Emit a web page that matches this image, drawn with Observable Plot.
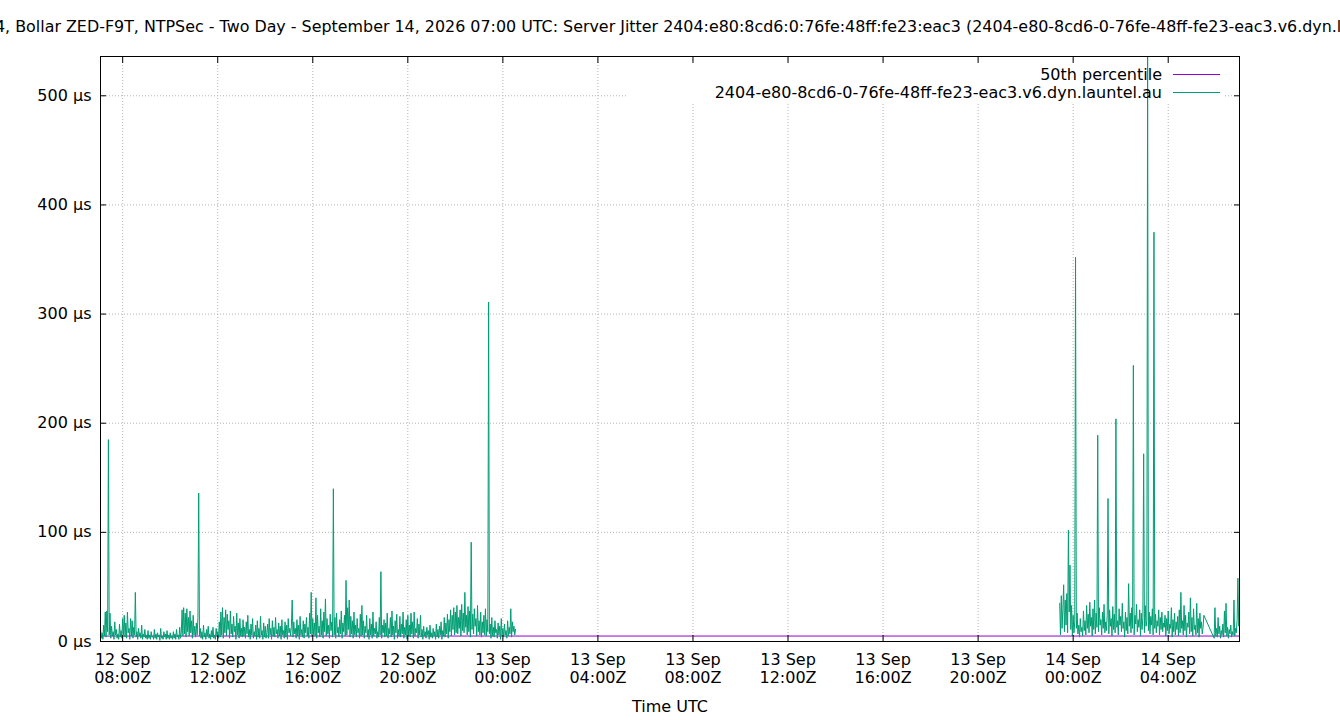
<!DOCTYPE html>
<html>
<head>
<meta charset="utf-8">
<script src="https://cdn.jsdelivr.net/npm/d3@7"></script>
<script src="https://cdn.jsdelivr.net/npm/@observablehq/plot@0.6"></script>
<style>
  html, body { margin: 0; padding: 0; background: #fff; }
  body { width: 1340px; height: 720px; overflow: hidden; font-family: "DejaVu Sans", sans-serif; }
  #title { width: 1340px; height: 45px; box-sizing: border-box; padding-top: 19px; line-height: 16px;
           font-size: 15.9px; white-space: nowrap; overflow: hidden; color: #000; text-indent: -5px; }
</style>
</head>
<body>
<div id="title">4, Bollar ZED-F9T, NTPSec - Two Day - September 14, 2026 07:00 UTC: Server Jitter 2404:e80:8cd6:0:76fe:48ff:fe23:eac3 (2404-e80-8cd6-0-76fe-48ff-fe23-eac3.v6.dyn.launtel.au)</div>
<div id="chart"></div>
<script>
// ---- data (jitter in µs, one sample every 2 minutes) ----
const stepMinutes = 2;
const run1Start = "2026-09-12T07:04:00Z";
const run1Jitter = [
  12, 3, 8, 2, 15, 5, 27, 4, 28, 9, 185, 6, 26, 3, 14, 5, 9, 2, 18, 6, 11, 3, 7, 2, 16, 4, 10, 3, 21, 6,
  24, 4, 17, 3, 27, 8, 12, 2, 21, 5, 19, 3, 13, 6, 45, 4, 9, 2, 12, 5, 8, 3, 15, 2, 7, 4, 11, 3, 6, 2,
  10, 3, 6, 2, 9, 4, 5, 2, 11, 3, 7, 2, 8, 4, 6, 1, 12, 3, 5, 2, 9, 4, 7, 2, 10, 3, 6, 2, 8, 3,
  5, 2, 9, 3, 7, 2, 11, 4, 6, 2, 13, 3, 8, 29, 5, 31, 7, 26, 4, 30, 9, 22, 5, 28, 8, 19, 3, 24, 6, 14,
  4, 17, 6, 22, 136, 5, 12, 3, 9, 2, 15, 4, 8, 2, 11, 5, 14, 3, 7, 2, 10, 4, 13, 3, 6, 2, 12, 5, 9, 3,
  18, 4, 27, 6, 31, 3, 22, 8, 29, 5, 25, 11, 19, 3, 28, 7, 16, 4, 23, 9, 14, 2, 26, 6, 17, 3, 21, 5, 12, 4,
  20, 5, 13, 3, 18, 7, 24, 4, 11, 2, 16, 6, 21, 3, 9, 5, 15, 2, 19, 4, 12, 3, 23, 6, 10, 2, 17, 4, 14, 3,
  8, 16, 3, 21, 6, 12, 2, 19, 5, 13, 4, 22, 7, 11, 3, 17, 5, 14, 2, 20, 6, 10, 3, 18, 4, 15, 2, 21, 8, 12,
  5, 14, 38, 4, 18, 7, 12, 3, 20, 5, 15, 2, 23, 6, 11, 4, 19, 3, 16, 8, 22, 5, 13, 3, 26, 7, 45, 4, 21, 6,
  17, 5, 40, 3, 24, 8, 14, 4, 30, 6, 19, 3, 27, 9, 39, 5, 21, 7, 15, 3, 25, 10, 18, 4, 140, 6, 22, 3, 26, 8,
  13, 4, 20, 7, 28, 3, 17, 9, 24, 5, 56, 6, 31, 11, 38, 4, 23, 7, 19, 3, 27, 6, 15, 4, 21, 8, 12, 3, 25, 5,
  33, 6, 19, 3, 14, 8, 24, 4, 11, 2, 21, 6, 16, 3, 27, 5, 12, 7, 18, 3, 9, 4, 22, 6, 64, 3, 15, 8, 20, 4,
  17, 5, 26, 3, 12, 7, 22, 4, 28, 6, 14, 2, 19, 8, 25, 3, 11, 5, 23, 4, 16, 7, 27, 3, 13, 6, 20, 2, 24, 5,
  15, 4, 26, 7, 18, 3, 27, 5, 12, 8, 21, 3, 16, 6, 24, 4, 11, 2, 14, 5, 9, 3, 13, 6, 10, 2, 15, 4, 8, 3,
  12, 5, 9, 2, 16, 4, 11, 3, 14, 6, 18, 2, 10, 5, 22, 4, 17, 7, 25, 3, 20, 9, 29, 5, 24, 11, 31, 6, 27, 8,
  33, 7, 22, 12, 29, 5, 34, 10, 26, 8, 45, 13, 24, 6, 32, 9, 28, 4, 91, 11, 25, 7, 30, 14, 21, 5, 33, 9, 19, 6,
  27, 4, 18, 8, 24, 6, 30, 5, 20, 9, 311, 7, 16, 3, 22, 5, 13, 4, 19, 8, 11, 3, 17, 6, 14, 2, 21, 5, 12, 4,
  16, 6, 10, 3, 19, 5, 13, 7, 30, 4, 18, 9, 14, 6, 11
];
const run2Start = "2026-09-13T23:26:00Z";
const run2Jitter = [
  35, 6, 42, 12, 30, 52, 9, 38, 15, 44, 8, 102, 27, 70, 11, 33, 5, 24, 8, 18, 352, 12, 26, 7, 15, 4, 21, 9, 13, 5,
  28, 10, 19, 6, 33, 12, 25, 8, 36, 14, 22, 5, 30, 11, 38, 7, 26, 13, 189, 9, 31, 15, 20, 6, 27, 12, 34, 8, 18, 10,
  24, 131, 7, 29, 14, 21, 5, 32, 11, 25, 8, 204, 13, 19, 6, 30, 15, 23, 9, 35, 12, 18, 4, 27, 10, 22, 7, 53, 14, 26,
  8, 31, 12, 253, 6, 24, 16, 34, 9, 20, 13, 29, 5, 26, 11, 22, 172, 8, 33, 14, 19, 536, 10, 27, 7, 23, 15, 30, 6, 375,
  12, 25, 8, 19, 14, 29, 6, 22, 11, 27, 9, 17, 13, 24, 5, 21, 10, 28, 7, 16, 12, 31, 4, 20, 9, 26, 6, 18, 11, 23,
  5, 29, 8, 45, 12, 19, 6, 33, 10, 24, 4, 17, 13, 27, 7, 40, 9, 22, 5, 30, 11, 15, 6, 35, 8, 21, 4, 26, 12, 18,
  7, 13, 24
];
const run3Start = "2026-09-14T05:56:00Z";
const run3Jitter = [
  3, 31, 5, 12, 4, 22, 7, 14, 3, 10, 6, 16, 4, 28, 8, 35, 5, 13, 3, 11, 7, 15, 4, 9, 6, 38, 5, 12, 8, 20, 58, 14, 24
];
const medianJitter = 5;
const xDomain = ["2026-09-12T07:04:00Z", "2026-09-14T07:00:00Z"];
const yDomain = [0, 536];
const yTicks = [0, 100, 200, 300, 400, 500];
const seriesNames = ["50th percentile", "2404-e80-8cd6-0-76fe-48ff-fe23-eac3.v6.dyn.launtel.au"];
const seriesColors = ["#9400d3", "#009e73"];
const xTitle = "Time UTC";

// ---- table ----
function rowsFrom(start, values, run) {
  const t0 = new Date(start);
  return values.map((v, i) => ({time: d3.utcMinute.offset(t0, i * stepMinutes), jitter: v, run}));
}
const rows = [
  ...rowsFrom(run1Start, run1Jitter, "a"),
  ...rowsFrom(run2Start, run2Jitter, "b"),
  ...rowsFrom(run3Start, run3Jitter, "b")
];

const font = "DejaVu Sans";
const fs = 16;
const fmtDay = d3.utcFormat("%d %b");
const fmtHour = d3.utcFormat("%H:%MZ");
const xTicks = d3.utcHour.every(4).range(new Date(xDomain[0]), new Date(xDomain[1]));

// opaque legend box (drawn behind the data) and legend entries
function legendBox(index, scales, values, dims) {
  const g = d3.create("svg:g");
  const right = dims.width - dims.marginRight;
  g.append("rect")
    .attr("x", right - 611).attr("y", dims.marginTop + 4)
    .attr("width", 597).attr("height", 42).attr("fill", "white");
  return g.node();
}
function legendEntries(index, scales, values, dims) {
  const g = d3.create("svg:g");
  const right = dims.width - dims.marginRight;
  seriesNames.forEach((name, i) => {
    const y = dims.marginTop + 18 + i * 18;
    g.append("text").attr("x", right - 77).attr("y", y).attr("dy", "0.35em")
      .attr("text-anchor", "end").attr("font-family", font).attr("font-size", fs)
      .attr("fill", "black").text(name);
    g.append("line").attr("x1", right - 66).attr("x2", right - 19)
      .attr("y1", y + 0.5).attr("y2", y + 0.5)
      .attr("stroke", seriesColors[i]).attr("stroke-width", 1);
  });
  return g.node();
}

const chart = Plot.plot({
  width: 1340,
  height: 675,
  marginTop: 11,
  marginBottom: 79,
  marginLeft: 100,
  marginRight: 101,
  style: {fontFamily: font, fontSize: fs + "px", color: "black", background: "white"},
  x: {type: "utc", domain: xDomain.map(d => new Date(d))},
  y: {domain: yDomain},
  marks: [
    Plot.gridY(yTicks.filter(d => d > 0), {stroke: "#b4b4b4", strokeOpacity: 1, strokeDasharray: "1,2"}),
    Plot.gridX(xTicks, {stroke: "#b4b4b4", strokeOpacity: 1, strokeDasharray: "1,2"}),
    legendBox,
    Plot.ruleY([medianJitter], {stroke: seriesColors[0], strokeWidth: 1}),
    Plot.lineY(rows, {x: "time", y: "jitter", z: "run", stroke: seriesColors[1], strokeWidth: 1, clip: true}),
    // y ticks inward (left and mirrored right)
    Plot.axisY(yTicks, {anchor: "left", tickSize: -6, tickFormat: () => "", label: null}),
    Plot.axisY(yTicks, {anchor: "right", tickSize: -6, tickFormat: () => "", label: null}),
    Plot.axisY(yTicks, {anchor: "left", tickSize: 0, tickPadding: 9, tickFormat: d => `${d} µs`, label: null, fontSize: fs}),
    // x ticks inward (bottom and mirrored top)
    Plot.axisX(xTicks, {anchor: "bottom", tickSize: -6, tickFormat: () => "", label: null}),
    Plot.axisX(xTicks, {anchor: "top", tickSize: -6, tickFormat: () => "", label: null}),
    Plot.axisX(xTicks, {anchor: "bottom", tickSize: 0, tickPadding: 11, lineHeight: 1.12,
      tickFormat: d => fmtDay(d) + "\n" + fmtHour(d), label: null, fontSize: fs}),
    Plot.text([xTitle], {frameAnchor: "bottom", dy: 70, fontSize: fs, fill: "black"}),
    Plot.frame({stroke: "black", strokeWidth: 1}),
    legendEntries
  ]
});
document.getElementById("chart").appendChild(chart);
</script>
</body>
</html>
